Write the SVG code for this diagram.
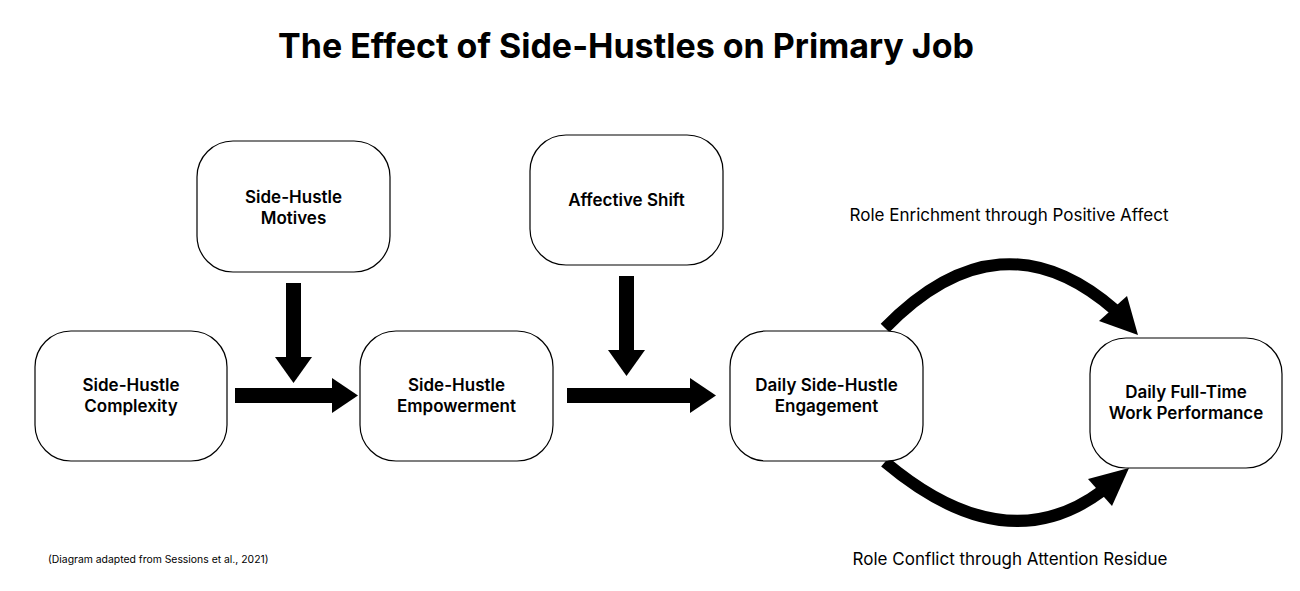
<svg xmlns="http://www.w3.org/2000/svg" width="1300" height="591" viewBox="0 0 1300 591">
<style>
.box{fill:#fff;stroke:#000;stroke-width:1.2}
.lbl{font-family:Inter,"Liberation Sans",sans-serif;font-size:17px;font-weight:600;text-anchor:middle;fill:#000}
.cap{font-family:Inter,"Liberation Sans",sans-serif;font-size:17px;font-weight:400;text-anchor:middle;fill:#000}
.title{font-family:Inter,"Liberation Sans",sans-serif;font-size:34px;font-weight:700;text-anchor:middle;fill:#000}
.note{font-family:Inter,"Liberation Sans",sans-serif;font-size:10.4px;fill:#000}
.fill{fill:#000}
.curve{fill:none;stroke:#000;stroke-width:12}
</style>
<rect width="1300" height="591" fill="#fff"/>
<text class="title" x="626" y="58">The Effect of Side-Hustles on Primary Job</text>

<g id="connectors">
  <g id="a-complexity-empowerment">
    <rect class="fill" x="235" y="388" width="98" height="15"/>
    <polygon class="fill" points="332,378 358,395.5 332,413"/>
  </g>
  <g id="a-motives">
    <rect class="fill" x="286" y="283" width="15" height="75"/>
    <polygon class="fill" points="275,357 312,357 293.5,383"/>
  </g>
  <g id="a-empowerment-engagement">
    <rect class="fill" x="567" y="388" width="124" height="15"/>
    <polygon class="fill" points="690,378 716,395.5 690,413"/>
  </g>
  <g id="a-affective">
    <rect class="fill" x="619" y="276" width="15" height="75"/>
    <polygon class="fill" points="608,350 645,350 626.5,376"/>
  </g>
  <g id="a-enrichment">
    <path class="curve" d="M885,328 Q1000,210 1115,310"/>
    <polygon class="fill" points="1099,321 1127,296 1138,335"/>
  </g>
  <g id="a-conflict">
    <path class="curve" d="M885,462 Q1005,563 1102,491"/>
    <polygon class="fill" points="1088,479 1112,506 1129,468"/>
  </g>
</g>

<g id="n-complexity">
  <rect class="box" x="35" y="331" width="192" height="130" rx="36"/>
  <text class="lbl" x="131" y="391">Side-Hustle</text>
  <text class="lbl" x="131" y="412">Complexity</text>
</g>
<g id="n-motives">
  <rect class="box" x="197" y="141" width="193" height="131" rx="36"/>
  <text class="lbl" x="293.5" y="203">Side-Hustle</text>
  <text class="lbl" x="293.5" y="224">Motives</text>
</g>
<g id="n-empowerment">
  <rect class="box" x="360" y="331" width="193" height="130" rx="36"/>
  <text class="lbl" x="456.5" y="391">Side-Hustle</text>
  <text class="lbl" x="456.5" y="412">Empowerment</text>
</g>
<g id="n-affective">
  <rect class="box" x="530" y="135" width="193" height="130" rx="36"/>
  <text class="lbl" x="626.5" y="206">Affective Shift</text>
</g>
<g id="n-engagement">
  <rect class="box" x="730" y="331" width="193" height="130" rx="36"/>
  <text class="lbl" x="826.5" y="391">Daily Side-Hustle</text>
  <text class="lbl" x="826.5" y="412">Engagement</text>
</g>
<g id="n-performance">
  <rect class="box" x="1090" y="338" width="192" height="130" rx="36"/>
  <text class="lbl" x="1186" y="398">Daily Full-Time</text>
  <text class="lbl" x="1186" y="419">Work Performance</text>
</g>

<text class="cap" x="1009" y="221">Role Enrichment through Positive Affect</text>
<text class="cap" x="1010" y="565">Role Conflict through Attention Residue</text>
<text class="note" x="48" y="563">(Diagram adapted from Sessions et al., 2021)</text>
</svg>
